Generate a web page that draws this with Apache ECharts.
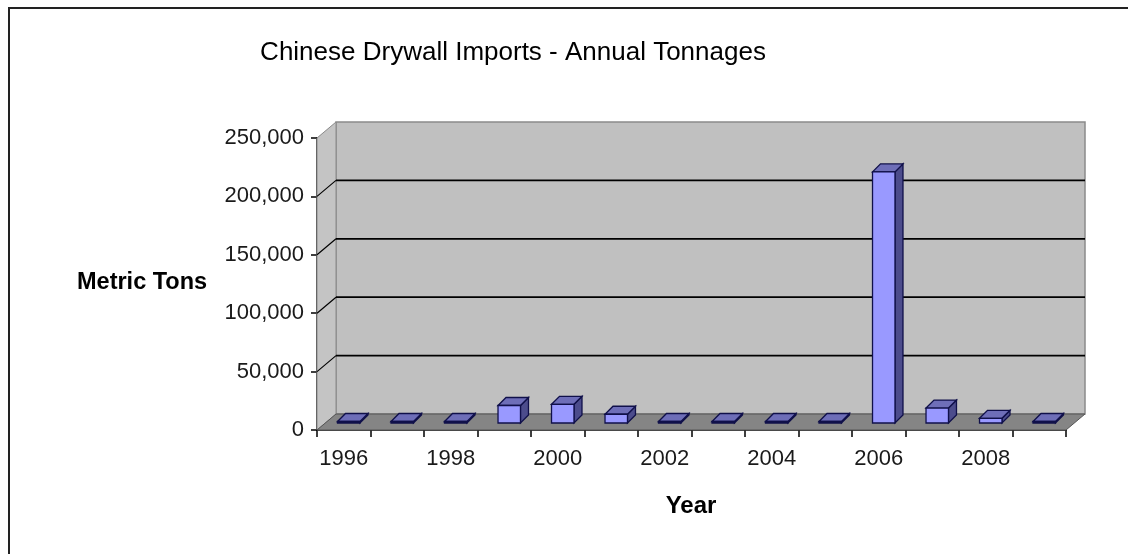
<!DOCTYPE html>
<html><head><meta charset="utf-8">
<script src="https://cdn.jsdelivr.net/npm/echarts@6/dist/echarts.min.js"></script>
<style>html,body{margin:0;padding:0;background:#fff}#c{width:1128px;height:554px}</style>
</head><body><div id="c"></div>
<script>
// ---- data ----
const years = ['1996','1997','1998','1999','2000','2001','2002','2003','2004','2005','2006','2007','2008','2009'];
const tonnage = [300, 200, 300, 15000, 16000, 7500, 300, 300, 300, 300, 215000, 12800, 4000, 300];
const yTicks = [0, 50000, 100000, 150000, 200000, 250000];
const titleText = 'Chinese Drywall Imports - Annual Tonnages';
const yName = 'Metric Tons';
const xName = 'Year';

// ---- style constants ----
const FONT = '"Liberation Sans", Arial, sans-serif';
const DX = 19, DY = -16;        // depth of the 3D box
const OX = 5, OY = -7;          // bar placement inside depth
const BDX = 8, BDY = -8;        // bar depth

const chart = echarts.init(document.getElementById('c'), null, {renderer: 'canvas'});

function fmt(v){ return String(v).replace(/\B(?=(\d{3})+(?!\d))/g, ','); }

const option = {
  animation: false,
  backgroundColor: '#ffffff',
  grid: {left: 317, right: 62, top: 138, bottom: 124, containLabel: false},
  xAxis: {
    type: 'category', data: years, boundaryGap: true,
    axisLine: {show: true, lineStyle: {color: '#000', width: 1.5}},
    axisTick: {show: true, interval: 0, length: 7, inside: false, lineStyle: {color: '#000', width: 1.5}},
    axisLabel: {interval: 1, fontFamily: FONT, fontSize: 22, color: '#1a1a1a', margin: 18},
    splitLine: {show: false}
  },
  yAxis: {
    type: 'value', min: 0, max: 250000, interval: 50000,
    axisLine: {show: true, lineStyle: {color: '#000', width: 1.5}},
    axisTick: {show: true, length: 6, lineStyle: {color: '#000', width: 1.5}},
    axisLabel: {fontFamily: FONT, fontSize: 22, color: '#1a1a1a', margin: 13, formatter: fmt},
    splitLine: {show: false}
  },
  graphic: [
    {type: 'rect', shape: {x: 9, y: 8, width: 1300, height: 800}, style: {fill: 'none', stroke: '#222', lineWidth: 2}, z: 100},
    {type: 'text', x: 513, y: 53, style: {text: titleText, font: '26px ' + FONT, fill: '#000', textAlign: 'center', textVerticalAlign: 'middle'}},
    {type: 'text', x: 77, y: 283, style: {text: yName, font: 'bold 23.5px ' + FONT, fill: '#000', textAlign: 'left', textVerticalAlign: 'middle'}},
    {type: 'text', x: 691, y: 506, style: {text: xName, font: 'bold 24px ' + FONT, fill: '#000', textAlign: 'center', textVerticalAlign: 'middle'}}
  ],
  series: [
    {
      type: 'custom', name: 'walls', z: 1, silent: true,
      data: [[0, 0]],
      renderItem: function (params, api) {
        const cs = params.coordSys;
        const x = cs.x, y = cs.y, w = cs.width, h = cs.height;
        const children = [];
        children.push({type: 'polygon', shape: {points: [[x+DX, y+DY],[x+w+DX, y+DY],[x+w+DX, y+h+DY],[x+DX, y+h+DY]]},
          style: {fill: '#c0c0c0', stroke: '#8a8a8a', lineWidth: 1.5}});
        children.push({type: 'polygon', shape: {points: [[x, y],[x+DX, y+DY],[x+DX, y+h+DY],[x, y+h]]},
          style: {fill: '#c4c4c4', stroke: '#8a8a8a', lineWidth: 1}});
        children.push({type: 'polygon', shape: {points: [[x, y+h],[x+DX, y+h+DY],[x+w+DX, y+h+DY],[x+w, y+h]]},
          style: {fill: '#858585', stroke: '#555', lineWidth: 1}});
        for (const v of yTicks) {
          if (v === 0 || v === 250000) continue;
          const py = api.coord([0, v])[1];
          children.push({type: 'line', shape: {x1: x+DX, y1: py+DY, x2: x+w+DX, y2: py+DY}, style: {stroke: '#000', lineWidth: 1.8}});
          children.push({type: 'line', shape: {x1: x, y1: py, x2: x+DX, y2: py+DY}, style: {stroke: '#000', lineWidth: 1.2}});
        }
        return {type: 'group', children: children};
      }
    },
    {
      type: 'custom', name: 'Tonnage', z: 5,
      data: tonnage.map((v, i) => [i, v]),
      encode: {x: 0, y: 1},
      renderItem: function (params, api) {
        const idx = api.value(0), val = api.value(1);
        const base = api.coord([idx, 0]);
        const top = api.coord([idx, val]);
        const W = api.size([1, 0])[0] * 0.42;
        const x0 = base[0] + OX - W / 2, x1 = x0 + W;
        const by = base[1] + OY, ty = Math.min(top[1] + OY, by - 1.5);
        const line = '#10104a';
        return {type: 'group', children: [
          {type: 'polygon', shape: {points: [[x1, ty],[x1+BDX, ty+BDY],[x1+BDX, by+BDY],[x1, by]]},
            style: {fill: '#4c4c8c', stroke: line, lineWidth: 1.3}},
          {type: 'polygon', shape: {points: [[x0, ty],[x0+BDX, ty+BDY],[x1+BDX, ty+BDY],[x1, ty]]},
            style: {fill: '#6e6eb8', stroke: line, lineWidth: 1.3}},
          {type: 'rect', shape: {x: x0, y: ty, width: W, height: by - ty},
            style: {fill: '#9999ff', stroke: line, lineWidth: 1.3}}
        ]};
      }
    }
  ]
};
chart.setOption(option);
</script>
</body></html>
